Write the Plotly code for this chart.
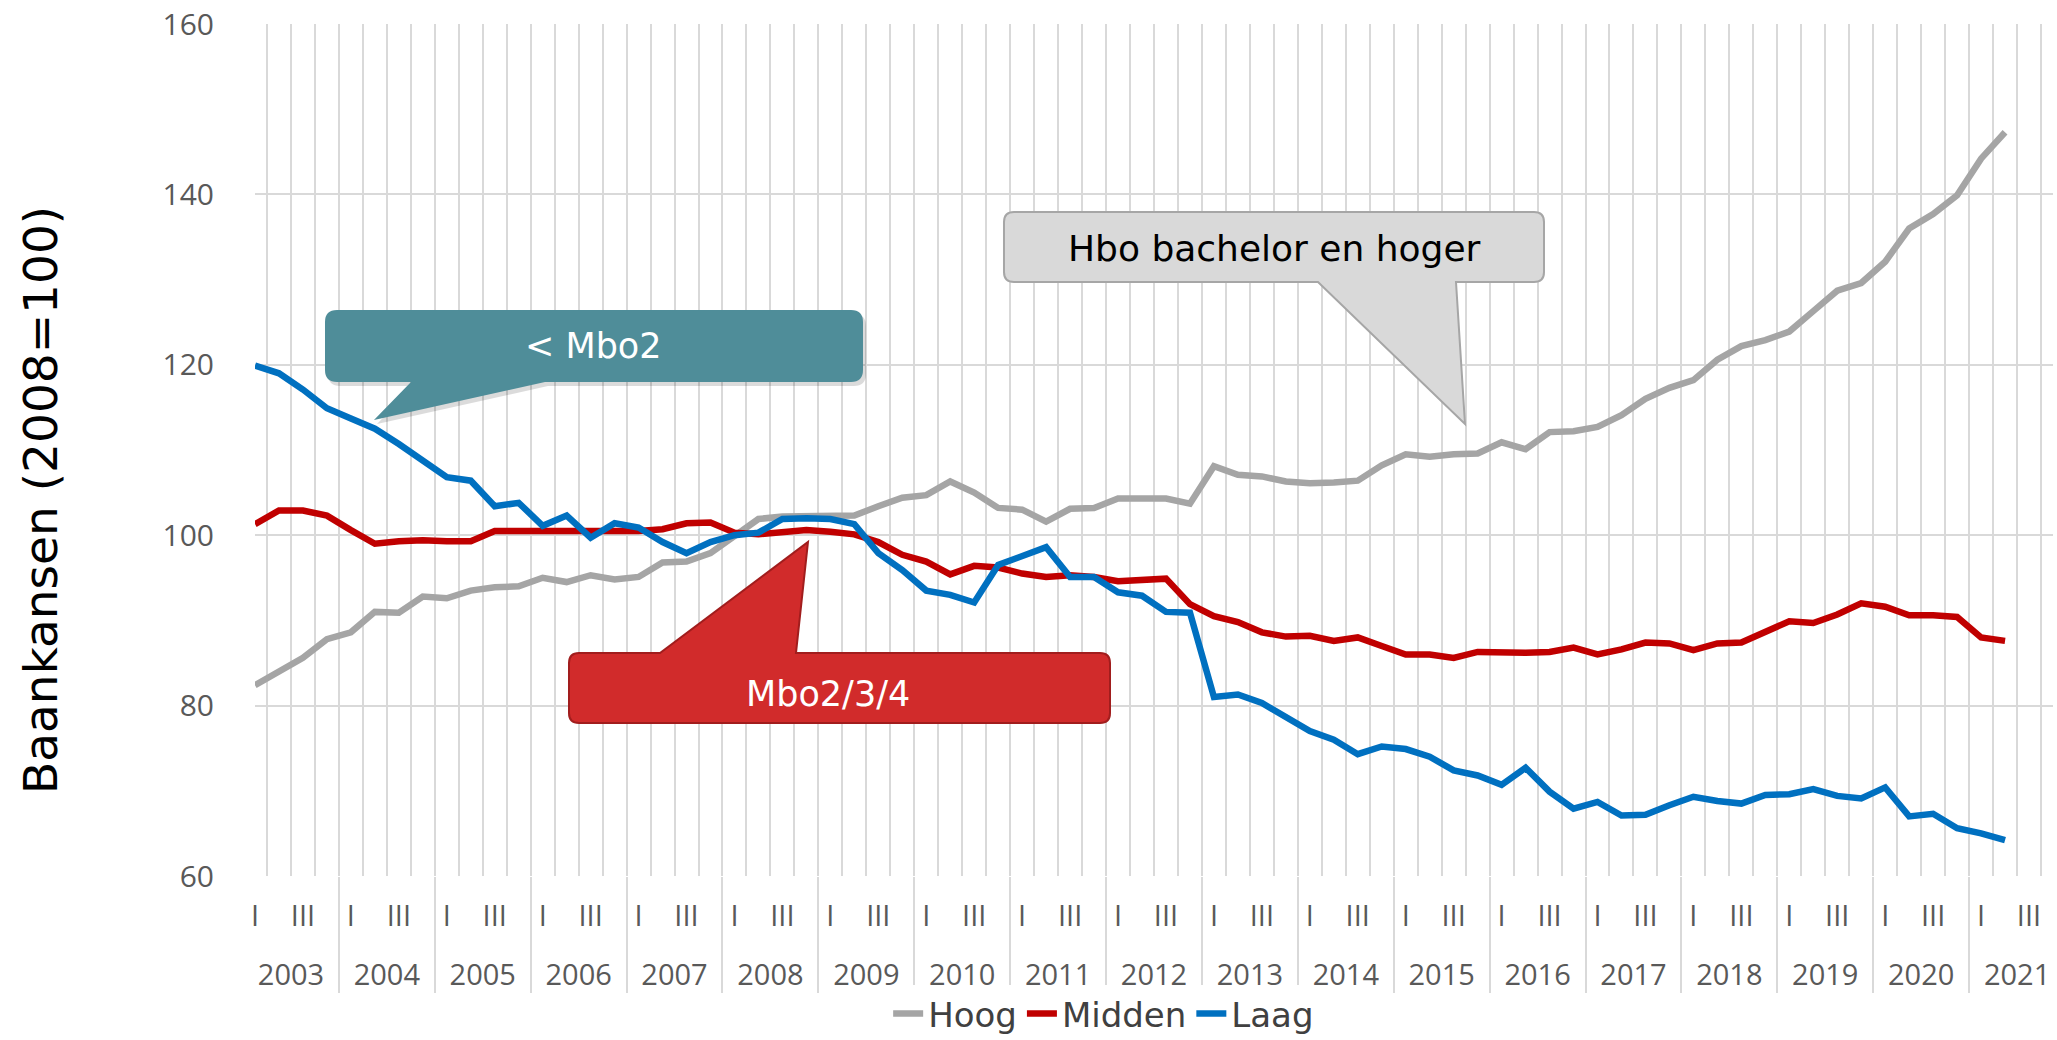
import plotly.graph_objects as go

# ---------------- data ----------------
years = [str(y) for y in range(2003, 2022)]
quarter_labels = ["I", "", "III", ""]

hoog = [82.4, 84.1, 85.6, 87.8, 88.6, 91.0, 90.9, 92.8, 92.6, 93.5, 93.9, 94.0,
        95.0, 94.5, 95.3, 94.8, 95.1, 96.8, 96.9, 97.9, 100.0, 101.9, 102.2, 102.2,
        102.3, 102.3, 103.4, 104.4, 104.7, 106.3, 105.0, 103.2, 103.0, 101.6, 103.1, 103.2,
        104.3, 104.3, 104.3, 103.7, 108.1, 107.1, 106.9, 106.3, 106.1, 106.2, 106.4, 108.2,
        109.5, 109.2, 109.5, 109.6, 110.9, 110.1, 112.1, 112.2, 112.7, 114.1, 116.0, 117.3,
        118.2, 120.6, 122.2, 122.9, 123.9, 126.3, 128.7, 129.6, 132.1, 136.0, 137.7, 139.9,
        144.2, 147.3]
midden = [101.3, 102.9, 102.9, 102.3, 100.6, 99.0, 99.3, 99.4, 99.3, 99.3, 100.5, 100.5,
          100.6, 100.5, 100.5, 100.6, 100.5, 100.7, 101.4, 101.5, 100.3, 100.1, 100.4, 100.6,
          100.4, 100.1, 99.2, 97.7, 96.9, 95.4, 96.4, 96.2, 95.5, 95.1, 95.3, 95.1,
          94.6, 94.8, 94.9, 91.9, 90.5, 89.8, 88.6, 88.1, 88.2, 87.6, 88.0, 87.0,
          86.0, 86.0, 85.6, 86.3, 86.2, 86.2, 86.3, 86.8, 86.0, 86.6, 87.4, 87.3,
          86.5, 87.3, 87.4, 88.6, 89.9, 89.7, 90.7, 92.0, 91.6, 90.6, 90.6, 90.4,
          88.0, 87.6]
laag = [119.9, 119.0, 117.1, 114.9, 113.7, 112.5, 110.7, 108.7, 106.8, 106.4, 103.4, 103.8,
        101.1, 102.3, 99.7, 101.4, 100.9, 99.2, 97.9, 99.2, 100.0, 100.3, 101.9, 102.0,
        101.9, 101.3, 97.9, 95.9, 93.5, 93.0, 92.1, 96.5, 97.5, 98.6, 95.1, 95.1,
        93.3, 92.9, 91.0, 90.9, 81.0, 81.3, 80.3, 78.6, 77.0, 76.0, 74.3, 75.2,
        74.9, 74.0, 72.4, 71.8, 70.7, 72.7, 69.9, 67.9, 68.7, 67.1, 67.2, 68.3,
        69.3, 68.8, 68.5, 69.5, 69.6, 70.2, 69.4, 69.1, 70.4, 67.0, 67.3, 65.6,
        65.0, 64.2]

series_names = ["Hoog", "Midden", "Laag"]
series_colors = ["#a5a5a5", "#c00000", "#0070c0"]

# ---------------- figure geometry ----------------
W, H = 2057, 1040
ML, MR, MT, MB = 255, 4, 24, 164
PW, PH = W - ML - MR, H - MT - MB


def px(x, y):
    return (x - ML) / PW, (H - MB - y) / PH


def path_from(points):
    s = ""
    for cmd, a, b in points:
        if cmd == "Q":
            cx, cy = px(a[0], a[1])
            ex, ey = px(b[0], b[1])
            s += f" Q{cx:.5f},{cy:.5f} {ex:.5f},{ey:.5f}"
        else:
            X, Y = px(a, b)
            s += f" {cmd}{X:.5f},{Y:.5f}"
    return s.strip() + " Z"


def callout(x0, y0, x1, y1, r, pointer, side):
    """rounded box with a pointer; pointer=(base_a, tip, base_b) in px"""
    pts = [("M", x0 + r, y0)]
    if side == "top":
        a, t, b = pointer
        pts += [("L", a[0], a[1]), ("L", t[0], t[1]), ("L", b[0], b[1])]
    pts += [("L", x1 - r, y0), ("Q", (x1, y0), (x1, y0 + r)),
            ("L", x1, y1 - r), ("Q", (x1, y1), (x1 - r, y1))]
    if side == "bottom":
        a, t, b = pointer
        pts += [("L", a[0], a[1]), ("L", t[0], t[1]), ("L", b[0], b[1])]
    pts += [("L", x0 + r, y1), ("Q", (x0, y1), (x0, y1 - r)),
            ("L", x0, y0 + r), ("Q", (x0, y0), (x0 + r, y0))]
    return path_from(pts)


# ---------------- x categories ----------------
x_year, x_q = [], []
for yr in years:
    for qi, q in enumerate(quarter_labels):
        x_year.append("<br>" + yr)          # blank first line pushes the year row down
        x_q.append(q if q else "\u200b" * qi)

n = len(x_year)
fig = go.Figure()
for name, vals, col in zip(series_names, [hoog, midden, laag], series_colors):
    yv = list(vals) + [None] * (n - len(vals))
    fig.add_trace(go.Scatter(x=[x_year, x_q], y=yv, mode="lines", name=name,
                             line=dict(color=col, width=6.5)))

shapes = []
# teal callout (< Mbo2) with soft shadow
teal = callout(325, 310, 863, 382, 12, ((545, 382), (374, 420), (411, 382)), "bottom")
teal_sh = callout(328, 314, 866, 386, 12, ((548, 386), (377, 424), (414, 386)), "bottom")
shapes.append(dict(type="path", xref="paper", yref="paper", path=teal_sh,
                   fillcolor="rgba(0,0,0,0.14)", line=dict(width=0)))
shapes.append(dict(type="path", xref="paper", yref="paper", path=teal,
                   fillcolor="#4f8d99", line=dict(width=0)))
# gray callout
grey = callout(1004, 212, 1544, 282, 10, ((1456, 282), (1465, 424), (1318, 282)), "bottom")
shapes.append(dict(type="path", xref="paper", yref="paper", path=grey,
                   fillcolor="#d9d9d9", line=dict(color="#a6a6a6", width=2)))
# red callout
red = callout(569, 653, 1110, 723, 10, ((660, 653), (808, 542), (796, 653)), "top")
shapes.append(dict(type="path", xref="paper", yref="paper", path=red,
                   fillcolor="#d12b2b", line=dict(color="#a11d1d", width=2)))

annotations = []
for text, (cx, cy), col, sz in [("< Mbo2", (593, 346), "white", 35),
                                ("Hbo bachelor en hoger", (1274, 249), "black", 36),
                                ("Mbo2/3/4", (828, 694), "white", 35)]:
    X, Y = px(cx, cy)
    annotations.append(dict(x=X, y=Y, xref="paper", yref="paper", text=text,
                            showarrow=False, xanchor="center", yanchor="middle",
                            font=dict(family="DejaVu Sans", size=sz, color=col)))

# y-axis title as rotated annotation (positioned like the original)
tx, ty = px(40, 500)
annotations.append(dict(x=tx, y=ty, xref="paper", yref="paper", text="Baankansen (2008=100)",
                        textangle=-90, showarrow=False, xanchor="center", yanchor="middle",
                        font=dict(family="DejaVu Sans", size=47, color="black")))

fig.update_layout(
    width=W, height=H,
    margin=dict(l=ML, r=MR, t=MT, b=MB, autoexpand=False),
    plot_bgcolor="white", paper_bgcolor="white",
    shapes=shapes, annotations=annotations,
    showlegend=True,
    legend=dict(orientation="h", x=0.472, xanchor="center", y=-0.162, yanchor="middle",
                font=dict(family="DejaVu Sans", size=34, color="#404040"),
                itemwidth=30, tracegroupgap=0),
)
fig.update_yaxes(range=[60, 160], tickvals=[60, 80, 100, 120, 140, 160],
                 showgrid=True, gridcolor="#d9d9d9", gridwidth=2,
                 zeroline=False, showline=False, ticks="", automargin=False,
                 ticklabelstandoff=40,
                 tickfont=dict(family="Open Sans", size=30, color="#595959"))
fig.update_xaxes(type="multicategory", showgrid=True, gridcolor="#d9d9d9", gridwidth=1.5,
                 nticks=200, tickangle=0, automargin=False,
                 tickson="boundaries", showdividers=True, dividercolor="#d9d9d9",
                 dividerwidth=2, ticks="", showline=False, zeroline=False,
                 ticklabelstandoff=20,
                 tickfont=dict(family="Open Sans", size=29, color="#595959"))

fig.write_html("out.html",
               config={"displayModeBar": False},
               post_script="document.body.style.margin='0';document.body.style.padding='0';"
                           "document.body.style.overflow='hidden';")
